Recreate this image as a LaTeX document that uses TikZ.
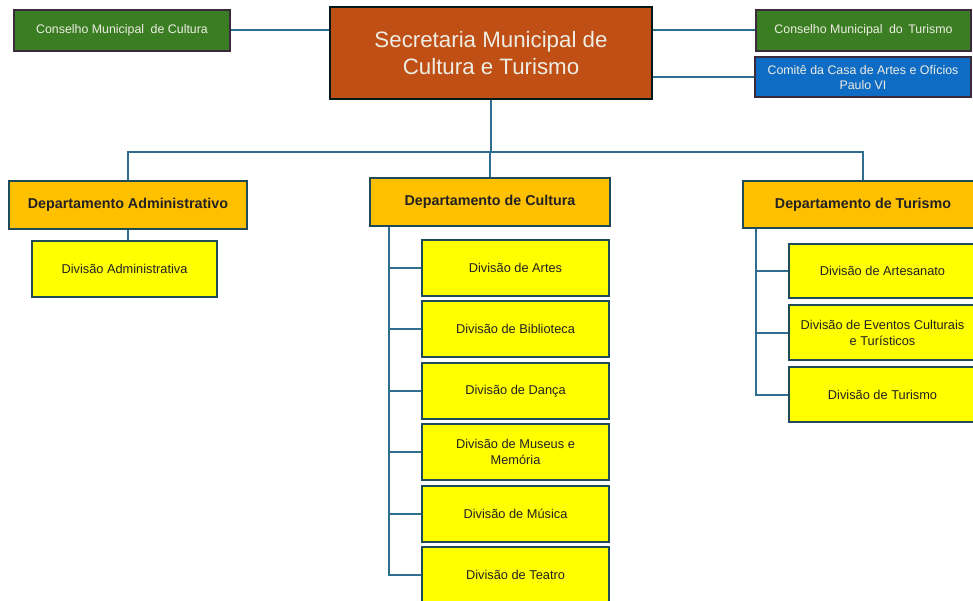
\documentclass[tikz,border=0pt]{standalone}
\usepackage{fontspec}
\setmainfont{Liberation Sans}
\definecolor{conncol}{HTML}{2E6E8E}
\definecolor{tealborder}{HTML}{1F4A58}
\definecolor{purpleborder}{HTML}{3A2A3C}
\definecolor{secfill}{HTML}{C04F15}
\definecolor{greenfill}{HTML}{3A7D22}
\definecolor{bluefill}{HTML}{0F6CC4}
\definecolor{deptfill}{HTML}{FFC000}
\definecolor{divfill}{HTML}{FFFF00}
\definecolor{lighttext}{HTML}{EEEDE4}
\definecolor{darktext}{HTML}{222222}
\tikzset{
  conn/.style={draw=conncol, line width=2pt},
  boxbase/.style={rectangle, inner sep=2pt, line width=2pt, align=center},
  topbox/.style={boxbase, draw=purpleborder, text=lighttext,
    font=\fontsize{12.4}{15}\selectfont},
  greenbox/.style={topbox, fill=greenfill},
  bluebox/.style={topbox, fill=bluefill},
  secbox/.style={boxbase, draw=black!80!teal, fill=secfill, text=lighttext,
    font=\fontsize{22.3}{27}\selectfont},
  deptbox/.style={boxbase, draw=tealborder, fill=deptfill, text=darktext,
    font=\fontsize{14.3}{17}\selectfont\bfseries},
  divbox/.style={boxbase, draw=tealborder, fill=divfill, text=darktext,
    font=\fontsize{12.8}{16}\selectfont},
}
\begin{document}
\begin{tikzpicture}[x=1pt,y=-1pt]
\useasboundingbox (0,0) rectangle (973,601);
\clip (0,0) rectangle (973,601);
\fill[white] (0,0) rectangle (973,601);

% top row
\node[greenbox, minimum width=216, minimum height=41] (cmc) at (122,30.5) {Conselho Municipal\hspace{3pt} de Cultura};
\node[secbox, minimum width=322, minimum height=92] (sec) at (491,53) {Secretaria Municipal de\\Cultura e Turismo};
\node[greenbox, minimum width=215, minimum height=41] (cmt) at (863.5,30.5) {Conselho Municipal\hspace{3pt} do\hspace{2pt} Turismo};
\node[bluebox, minimum width=216, minimum height=40] (com) at (863,77) {Comitê da Casa de Artes e Ofícios\\Paulo VI};

% departments
\node[deptbox, minimum width=238, minimum height=48] (dadm) at (128,205) {Departamento Administrativo};
\node[deptbox, minimum width=240, minimum height=48] (dcul) at (490,202) {Departamento de Cultura};
\node[deptbox, minimum width=240, minimum height=47] (dtur) at (863,204.5) {Departamento de Turismo};

% admin division
\node[divbox, minimum width=185, minimum height=56] (dva) at (124.5,269) {Divisão Administrativa};

% cultura divisions
\node[divbox, minimum width=187, minimum height=56] (c1) at (515.5,268) {Divisão de Artes};
\node[divbox, minimum width=187, minimum height=56] (c2) at (515.5,328.5) {Divisão de Biblioteca};
\node[divbox, minimum width=187, minimum height=56] (c3) at (515.5,391) {Divisão de Dança};
\node[divbox, minimum width=187, minimum height=56] (c4) at (515.5,452) {Divisão de Museus e\\Memória};
\node[divbox, minimum width=187, minimum height=56] (c5) at (515.5,513.5) {Divisão de Música};
\node[divbox, minimum width=187, minimum height=56] (c6) at (515.5,575) {Divisão de Teatro};

% turismo divisions
\node[divbox, minimum width=187, minimum height=54] (t1) at (882.5,271) {Divisão de Artesanato};
\node[divbox, minimum width=187, minimum height=55] (t2) at (882.5,332.5) {Divisão de Eventos Culturais\\e Turísticos};
\node[divbox, minimum width=187, minimum height=55] (t3) at (882.5,394.5) {Divisão de Turismo};

% top connectors
\draw[conn] (cmc.east) -- (cmc.east -| sec.west);
\draw[conn] (cmt.west -| sec.east) -- (cmt.west);
\draw[conn] (com.west -| sec.east) -- (com.west);

% bus
\coordinate (bus) at (491,152);
\draw[conn] (sec.south) -- (bus);
\draw[conn] (dadm.north) |- (bus);
\draw[conn] (dtur.north) |- (bus);
\draw[conn] (dcul.north) -- (dcul.north |- bus);

% admin
\draw[conn] (dadm.south) -- (dadm.south |- dva.north);

% cultura trunk
\coordinate (ctr) at ([xshift=20pt]dcul.south west);
\draw[conn] (ctr) |- (c6.west);
\foreach \n in {c1,c2,c3,c4,c5}{
  \draw[conn] (\n.west) -- (\n.west -| ctr);
}

% turismo trunk
\coordinate (ttr) at ([xshift=14pt]dtur.south west);
\draw[conn] (ttr) |- (t3.west);
\foreach \n in {t1,t2}{
  \draw[conn] (\n.west) -- (\n.west -| ttr);
}
\end{tikzpicture}
\end{document}
